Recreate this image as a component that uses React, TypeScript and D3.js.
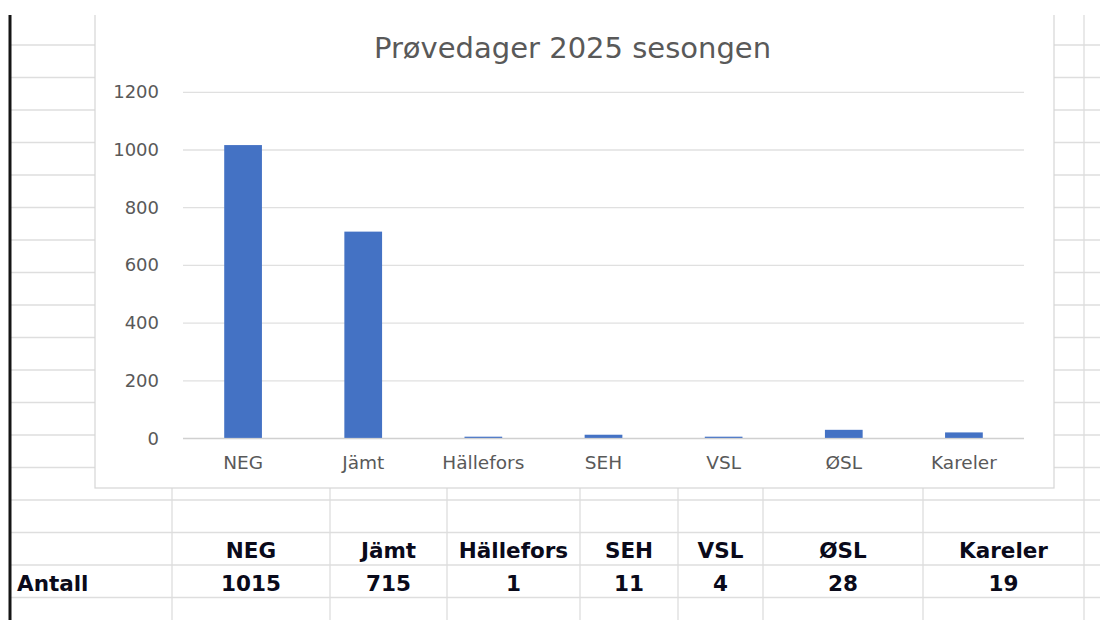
import React from "react";
import * as d3 from "d3";

// ---- data ----
const categories = ["NEG", "Jämt", "Hällefors", "SEH", "VSL", "ØSL", "Kareler"];
const values = [1015, 715, 1, 11, 4, 28, 19];
const yTicks = [0, 200, 400, 600, 800, 1000, 1200];
const title = "Prøvedager 2025 sesongen";
const rowLabel = "Antall";

// ---- layout (spreadsheet grid) ----
const W = 1100;
const H = 620;
const colEdges = [172, 330, 447, 580, 678, 763, 923, 1084];
const rowCount = 18;
const rowStart = 45;
const rowStep = 32.5;
const chartBox = { x0: 95, x1: 1054, y0: 15, y1: 488 };
const plot = { x0: 183, x1: 1024, yTop: 92.3, yBottom: 438.5 };

const chartFont = "'DejaVu Sans', sans-serif";
const gridColor = "#dedede";
const textGray = "#595959";
const barColor = "#4472C4";

export default function App() {
  const x = d3
    .scaleBand<string>()
    .domain(categories)
    .range([plot.x0, plot.x1])
    .paddingInner(0.686)
    .paddingOuter(0.343);
  const y = d3.scaleLinear().domain([0, 1200]).range([plot.yBottom, plot.yTop]);

  const rows = d3.range(rowCount).map((k) => rowStart + k * rowStep);
  // table cells: column B..H centers
  const cellCenters = colEdges.slice(0, -1).map((e, i) => (e + colEdges[i + 1]) / 2);

  return (
    <svg
      width={W}
      height={H}
      style={{ position: "absolute", left: 0, top: 0, background: "#fff" }}
      xmlns="http://www.w3.org/2000/svg"
    >
      <rect x={0} y={0} width={W} height={H} fill="#fff" />
      {/* spreadsheet grid */}
      {rows.map((ry, i) => (
        <line key={"r" + i} x1={11} x2={W} y1={ry} y2={ry} stroke={gridColor} strokeWidth={1.3} />
      ))}
      {colEdges.map((cx, i) => (
        <line key={"c" + i} x1={cx} x2={cx} y1={0} y2={H} stroke={gridColor} strokeWidth={1.3} />
      ))}
      {/* left dark border */}
      <rect x={8.5} y={0} width={3} height={H} fill="#151515" />

      {/* chart object */}
      <rect
        x={chartBox.x0}
        y={0}
        width={chartBox.x1 - chartBox.x0}
        height={chartBox.y1}
        fill="#fff"
        stroke="#d6d6d6"
        strokeWidth={1.2}
      />
      {/* top white strip */}
      <rect x={0} y={0} width={W} height={chartBox.y0} fill="#fff" />

      {/* title */}
      <text
        x={(chartBox.x0 + chartBox.x1) / 2 - 2}
        y={58}
        textAnchor="middle"
        fontFamily={chartFont}
        fontSize={29}
        fill={textGray}
      >
        {title}
      </text>

      {/* y gridlines & labels */}
      {yTicks.map((t) => (
        <g key={"t" + t}>
          <line
            x1={plot.x0}
            x2={plot.x1}
            y1={y(t)}
            y2={y(t)}
            stroke={t === 0 ? "#d0d0d0" : "#e0e0e0"}
            strokeWidth={1.3}
          />
          <text
            x={159}
            y={y(t) + 6}
            textAnchor="end"
            fontFamily={chartFont}
            fontSize={18}
            fill={textGray}
          >
            {t}
          </text>
        </g>
      ))}

      {/* bars */}
      {categories.map((c, i) => {
        const top = y(values[i]);
        const h = Math.max(y(0) - top, 1.2);
        return (
          <rect
            key={"b" + c}
            x={x(c)}
            y={y(0) - h - 0.6}
            width={x.bandwidth()}
            height={h}
            fill={barColor}
          />
        );
      })}

      {/* category labels */}
      {categories.map((c) => (
        <text
          key={"l" + c}
          x={(x(c) as number) + x.bandwidth() / 2}
          y={469}
          textAnchor="middle"
          fontFamily={chartFont}
          fontSize={18.5}
          fill={textGray}
        >
          {c}
        </text>
      ))}

      {/* table below */}
      {categories.map((c, i) => (
        <text
          key={"h" + c}
          x={cellCenters[i]}
          y={558}
          textAnchor="middle"
          fontFamily={chartFont}
          fontWeight="bold"
          fontSize={21.5}
          fill="#0a0a1a"
        >
          {c}
        </text>
      ))}
      <text x={17} y={591} fontFamily={chartFont} fontWeight="bold" fontSize={21.5} fill="#0a0a1a">
        {rowLabel}
      </text>
      {values.map((v, i) => (
        <text
          key={"v" + i}
          x={cellCenters[i]}
          y={591}
          textAnchor="middle"
          fontFamily={chartFont}
          fontWeight="bold"
          fontSize={21.5}
          fill="#0a0a1a"
        >
          {v}
        </text>
      ))}
    </svg>
  );
}
